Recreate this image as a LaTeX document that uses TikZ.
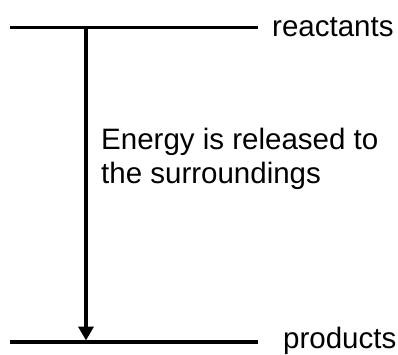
\documentclass[tikz,border=0pt]{standalone}
\usepackage{fontspec}
\setmainfont{Liberation Sans}
\usetikzlibrary{arrows.meta}
\begin{document}
\begin{tikzpicture}[x=1pt,y=1pt,
  level/.style={line width=3.5pt},
  label/.style={anchor=base west,inner sep=0pt,font=\fontsize{29.5}{34}\selectfont},
  energyarrow/.style={line width=3.5pt,-{Triangle[width=15pt,length=14pt]}}]
\useasboundingbox (0,0) rectangle (398,354);
\coordinate (r1) at (10,326.5);
\coordinate (r2) at (258,326.5);
\coordinate (p1) at (10,12);
\coordinate (p2) at (258,12);
\coordinate (a1) at (86,326.5);
\coordinate (a2) at (86,13.5);
\draw[level] (r1) -- (r2);
\draw[level] (p1) -- (p2);
\draw[energyarrow] (a1) -- (a2);
\node[label] (reac) at (272,317) {reactants};
\node[label] (prod) at (283,6) {products};
\node[label] (txt1) at (101,205) {Energy is released to};
\node[label] (txt2) at (101,171) {the surroundings};
\end{tikzpicture}
\end{document}
